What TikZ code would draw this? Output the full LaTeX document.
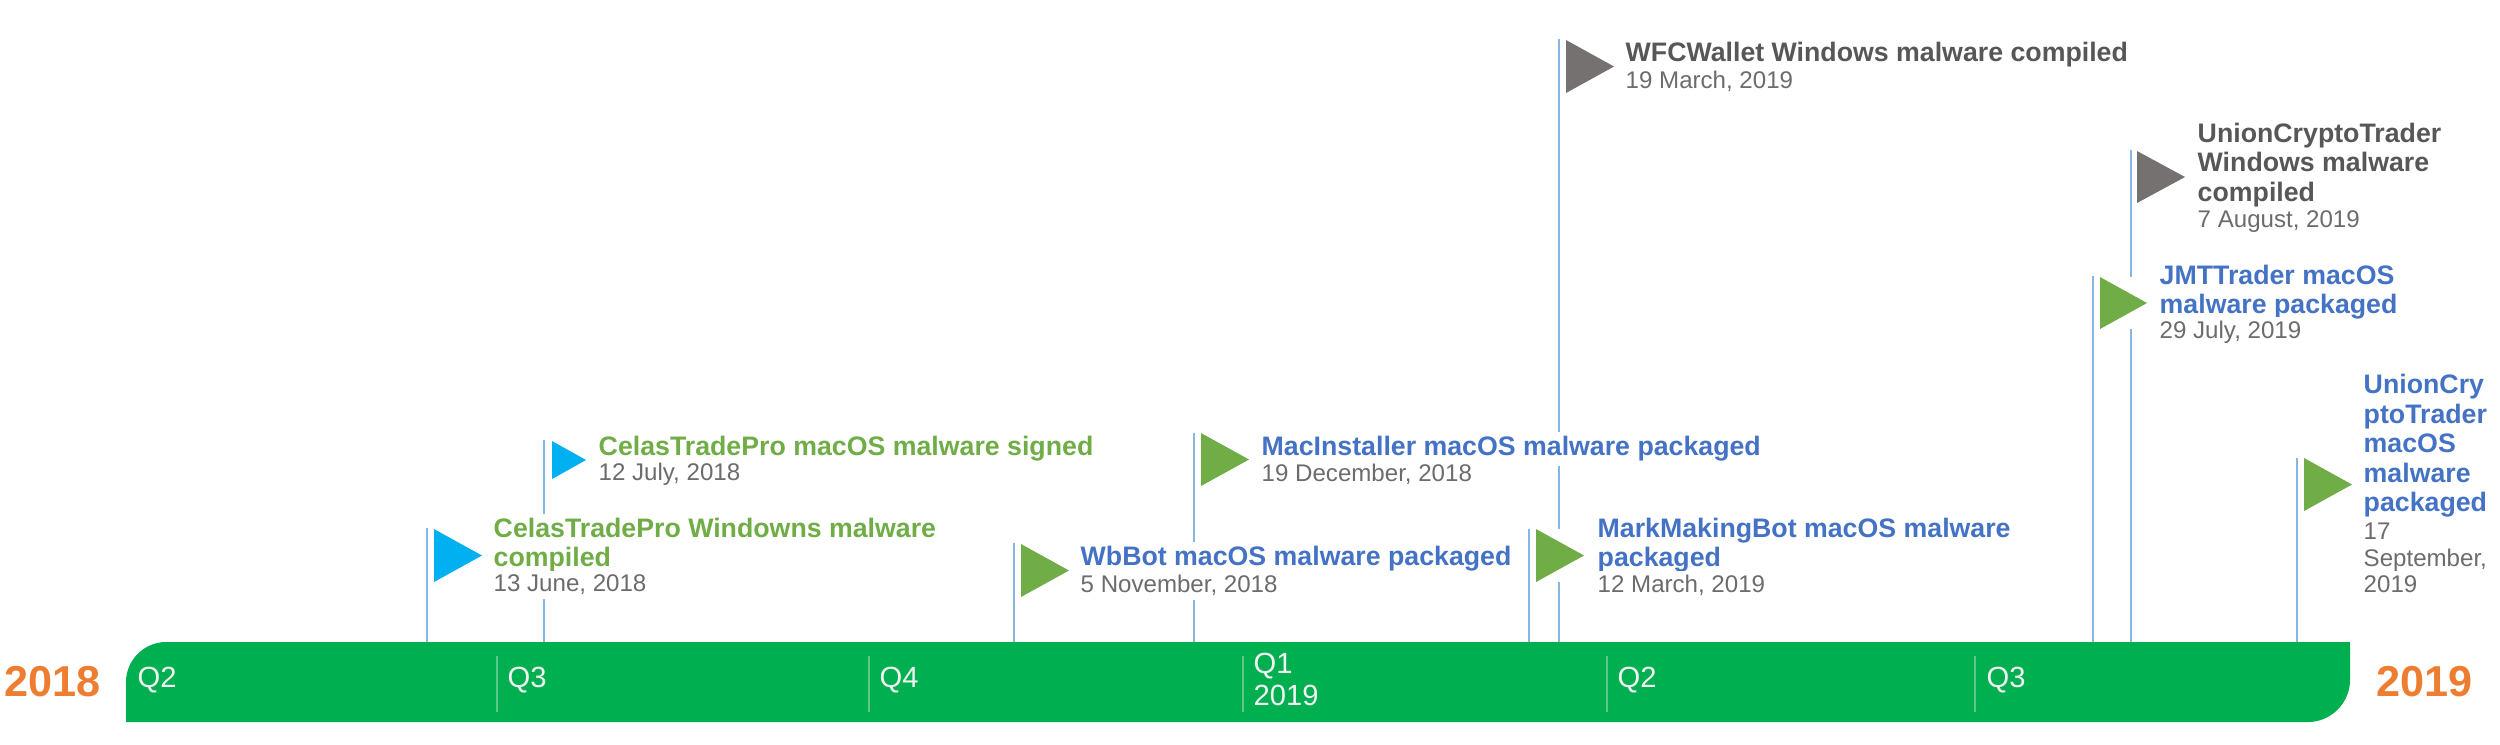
\documentclass[tikz,border=0pt]{standalone}
\usepackage{fontspec}
\setmainfont{Liberation Sans}
\usepackage{tikz}
\usetikzlibrary{positioning}
\usepackage{xcolor}

\definecolor{bargreen}{HTML}{00B050}
\definecolor{qdivider}{HTML}{5CC88C}
\definecolor{qtext}{HTML}{F2F2F2}
\definecolor{yearorange}{HTML}{ED7D31}
\definecolor{polecol}{HTML}{86B6E3}
\definecolor{flagblue}{HTML}{00B0F0}
\definecolor{flaggreen}{HTML}{70AD47}
\definecolor{flaggray}{HTML}{767171}
\definecolor{txtblue}{HTML}{4472C4}
\definecolor{txtgreen}{HTML}{70AD47}
\definecolor{txtgray}{HTML}{575757}
\definecolor{datecol}{HTML}{6E6B6B}

\begin{document}
\begin{tikzpicture}[x=0.01cm, y=-0.01cm,
  pole/.style={draw=polecol, line width=0.6pt},
  qline/.style={draw=qdivider, line width=0.6pt},
  qlabel/.style={font=\fontsize{8.3}{9.1}\selectfont, text=qtext, anchor=west, inner sep=0pt, align=left},
  yearlabel/.style={font=\fontsize{12.3}{13}\selectfont\bfseries, text=yearorange, anchor=west, inner sep=0pt},
  evtitle/.style={font=\fontsize{7.6}{8.4}\selectfont\bfseries, align=left, anchor=west, fill=white, inner xsep=0pt, inner ysep=1.2pt},
  evdate/.style={font=\fontsize{6.85}{7.55}\selectfont, text=datecol, align=left, anchor=west, fill=white, inner xsep=0pt, inner ysep=1.2pt}]

\useasboundingbox (0,0) rectangle (2500,744);

%timeline bar
\fill[bargreen] (126,722) -- (126,682) .. controls (126,660) and (144,642) .. (166,642)
  -- (2350,642) -- (2350,680) .. controls (2350,703) and (2331,722) .. (2308,722) -- cycle;
\coordinate (bartop) at (0,642);

\draw[qline] (497,656) -- (497,712);
\draw[qline] (869,656) -- (869,712);
\draw[qline] (1243,656) -- (1243,712);
\draw[qline] (1607,656) -- (1607,712);
\draw[qline] (1975,656) -- (1975,712);

\node[qlabel] (q2a) at (137,680) {Q2};
\node[qlabel] (q3a) at (507,680) {Q3};
\node[qlabel] (q4a) at (879,680) {Q4};
\node[qlabel] (q1b) at (1253,679) {Q1\\2019};
\node[qlabel] (q2b) at (1617,680) {Q2};
\node[qlabel] (q3b) at (1986,680) {Q3};

\node[yearlabel] (y2018) at (4,682) {2018};
\node[yearlabel] (y2019) at (2376,682) {2019};

%poles
\coordinate (ctpwin) at (427,528);
\coordinate (ctpmac) at (544,440);
\coordinate (wbbot) at (1014,543);
\coordinate (macinst) at (1194,433);
\coordinate (mmbot) at (1529,529);
\coordinate (wfc) at (1559,39);
\coordinate (uctwin) at (2131,150);
\coordinate (jmt) at (2093,276);
\coordinate (uctmac) at (2297,458);

\draw[pole] (ctpwin) -- (ctpwin |- bartop);
\draw[pole] (ctpmac) -- (ctpmac |- bartop);
\draw[pole] (wbbot) -- (wbbot |- bartop);
\draw[pole] (macinst) -- (macinst |- bartop);
\draw[pole] (mmbot) -- (mmbot |- bartop);
\draw[pole] (wfc) -- (wfc |- bartop);
\draw[pole] (uctwin) -- (uctwin |- bartop);
\draw[pole] (jmt) -- (jmt |- bartop);
\draw[pole] (uctmac) -- (uctmac |- bartop);

%flags
\fill[white] (434,529) rectangle +(48,53);
\fill[flagblue] (434,529) -- ++(0,53) -- ++(48,-26.5) -- cycle;

\fill[white] (552,441) rectangle +(34,38);
\fill[flagblue] (552,441) -- ++(0,38) -- ++(34,-19) -- cycle;

\fill[white] (1021,544) rectangle +(48,53);
\fill[flaggreen] (1021,544) -- ++(0,53) -- ++(48,-26.5) -- cycle;

\fill[white] (1201,433) rectangle +(48,53);
\fill[flaggreen] (1201,433) -- ++(0,53) -- ++(48,-26.5) -- cycle;

\fill[white] (1536,529) rectangle +(48,53);
\fill[flaggreen] (1536,529) -- ++(0,53) -- ++(48,-26.5) -- cycle;

\fill[white] (1566,40) rectangle +(48,53);
\fill[flaggray] (1566,40) -- ++(0,53) -- ++(48,-26.5) -- cycle;

\fill[white] (2137,151) rectangle +(48,52);
\fill[flaggray] (2137,151) -- ++(0,52) -- ++(48,-26) -- cycle;

\fill[white] (2100,277) rectangle +(47,52);
\fill[flaggreen] (2100,277) -- ++(0,52) -- ++(47,-26) -- cycle;

\fill[white] (2304,458) rectangle +(48,53);
\fill[flaggreen] (2304,458) -- ++(0,53) -- ++(48,-26.5) -- cycle;

%event texts
\node[evtitle, text=txtgreen] (ctpwin-t) at (493,545) {CelasTradePro Windowns malware\\compiled};
\node[evdate] (ctpwin-d) at (493,585) {13 June, 2018};

\node[evtitle, text=txtgreen] (ctpmac-t) at (598,449) {CelasTradePro macOS malware signed};
\node[evdate] (ctpmac-d) at (598,474) {12 July, 2018};

\node[evtitle, text=txtblue] (wbbot-t) at (1080,559) {WbBot macOS malware packaged};
\node[evdate] (wbbot-d) at (1080,585) {5 November, 2018};

\node[evtitle, text=txtblue] (macinst-t) at (1261,449) {MacInstaller macOS malware packaged};
\node[evdate] (macinst-d) at (1261,474) {19 December, 2018};

\node[evtitle, text=txtblue] (mmbot-t) at (1597,545) {MarkMakingBot macOS malware\\packaged};
\node[evdate] (mmbot-d) at (1597,585) {12 March, 2019};

\node[evtitle, text=txtgray] (wfc-t) at (1625,55) {WFCWallet Windows malware compiled};
\node[evdate] (wfc-d) at (1625,81) {19 March, 2019};

\node[evtitle, text=txtgray] (uctwin-t) at (2197,165) {UnionCryptoTrader\\Windows malware\\compiled};
\node[evdate] (uctwin-d) at (2197,222) {7 August, 2019};

\node[evtitle, text=txtblue] (jmt-t) at (2159,292) {JMTTrader macOS\\malware packaged};
\node[evdate] (jmt-d) at (2159,332) {29 July, 2019};

\node[evtitle, text=txtblue] (uctmac-t) at (2363,446) {UnionCry\\ptoTrader\\macOS\\malware\\packaged};
\node[evdate] (uctmac-d) at (2363,558) {17\\September,\\2019};

\end{tikzpicture}
\end{document}
